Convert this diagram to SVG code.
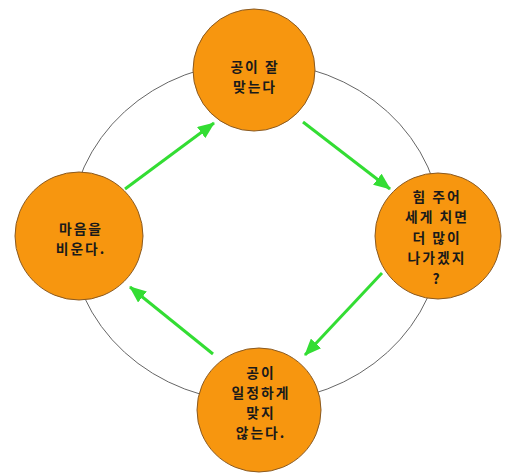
<svg xmlns="http://www.w3.org/2000/svg" width="517" height="474" viewBox="0 0 517 474">
<style>
.node circle{fill:#f7960f;stroke:#8a5a22;stroke-width:1}
.node text{font-family:"Noto Sans CJK KR","Noto Sans",sans-serif;font-size:13.8px;letter-spacing:2px;font-weight:bold;fill:#1a1a1a;text-anchor:middle}
.conn line{stroke:#33dd33;stroke-width:3;marker-end:url(#ah)}
</style>
<defs>
<marker id="ah" markerUnits="userSpaceOnUse" markerWidth="18" markerHeight="14" refX="16" refY="7" orient="auto">
<path d="M0,0 L17,7 L0,14 Z" fill="#33dd33"/>
</marker>
</defs>
<rect width="517" height="474" fill="#ffffff"/>
<ellipse cx="256" cy="232" rx="186" ry="170" fill="none" stroke="#666666" stroke-width="1"/>
<g class="conn">
<line x1="125" y1="189" x2="214" y2="123"/>
<line x1="303" y1="122" x2="390" y2="189"/>
<line x1="382" y1="273" x2="305" y2="355"/>
<line x1="213" y1="354" x2="130" y2="287"/>
</g>
<g id="n1" class="node">
<circle cx="254" cy="70" r="61"/>
<text x="255" y="72">공이 잘</text>
<text x="255" y="92">맞는다</text>
</g>
<g id="n2" class="node">
<circle cx="438" cy="236" r="63"/>
<text x="437" y="202">힘 주어</text>
<text x="437" y="222">세게 치면</text>
<text x="437" y="243">더 많이</text>
<text x="437" y="263">나가겠지</text>
<text x="437" y="284">?</text>
</g>
<g id="n3" class="node">
<circle cx="259" cy="410" r="62"/>
<text x="261" y="378">공이</text>
<text x="261" y="398">일정하게</text>
<text x="261" y="418">맞지</text>
<text x="261" y="438">않는다.</text>
</g>
<g id="n4" class="node">
<circle cx="79" cy="236" r="64"/>
<text x="81" y="234">마음을</text>
<text x="81" y="254">비운다.</text>
</g>
</svg>
